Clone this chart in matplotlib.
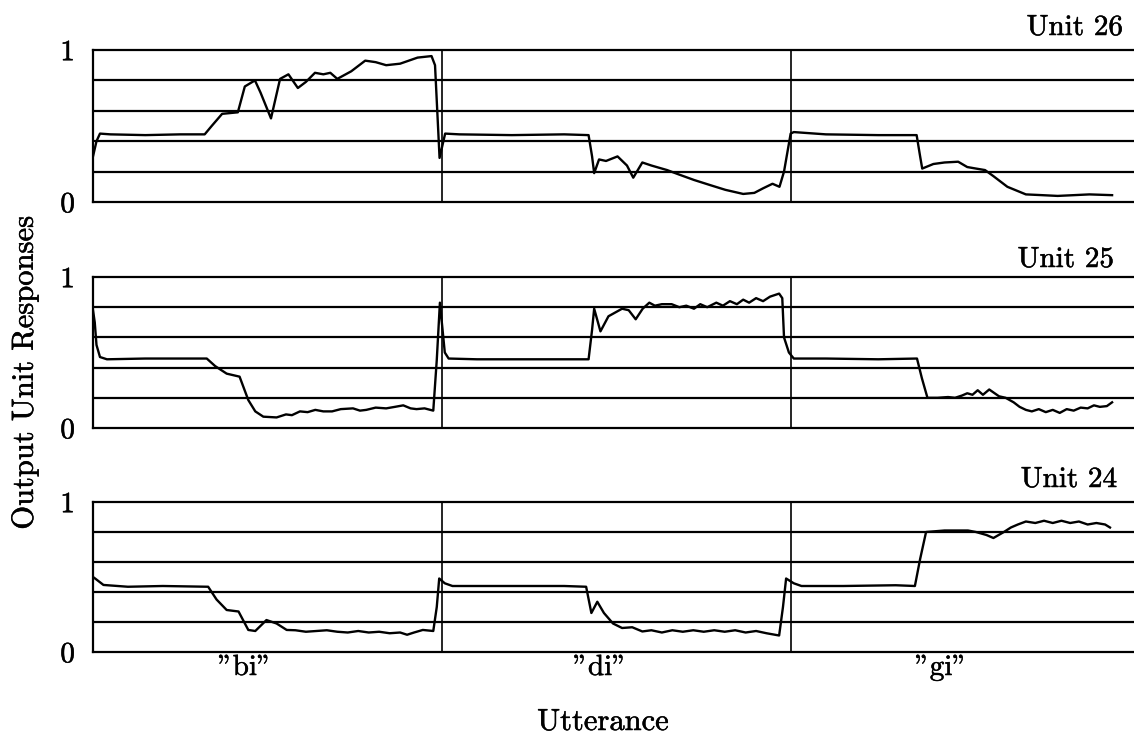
import matplotlib
matplotlib.use("Agg")
import matplotlib.pyplot as plt
import matplotlib.patheffects as pe
from matplotlib.transforms import blended_transform_factory

# frames within each utterance (0-100) and response of the output unit
utterances = ['"bi"', '"di"', '"gi"']
label_pos = [43.5, 45.3, 43.0]  # where the utterance name sits inside its block

u26_bi_t = [0, 1, 2, 5, 15, 25, 32, 34, 37, 41.5, 43.5, 46.4, 48, 51, 53.6, 56, 58.7, 61, 63.6,
            66, 68, 70, 74, 78, 81, 84, 88, 93, 97, 98, 99.3]
u26_bi_y = [0.30, 0.40, 0.45, 0.445, 0.44, 0.445, 0.445, 0.50, 0.58, 0.59, 0.76, 0.80, 0.72, 0.55,
            0.81, 0.84, 0.75, 0.79, 0.85, 0.84, 0.85, 0.81, 0.86, 0.93, 0.92, 0.90, 0.91, 0.95,
            0.96, 0.90, 0.29]
u26_di_t = [0.9, 5, 20, 35, 42, 43, 43.6, 45, 47, 50.3, 53, 54.8, 57.4, 60, 64.5, 68, 72.2, 77,
            81.2, 86.3, 89.5, 92, 94.7, 96.7, 98, 99.9]
u26_di_y = [0.45, 0.445, 0.44, 0.445, 0.44, 0.30, 0.19, 0.28, 0.27, 0.30, 0.24, 0.16, 0.26, 0.24,
            0.21, 0.18, 0.145, 0.11, 0.08, 0.053, 0.06, 0.09, 0.12, 0.10, 0.20, 0.45]
u26_gi_t = [0.8, 10, 25, 36, 37, 37.6, 40.8, 44, 47.9, 50.5, 53, 55.6, 58, 62, 67.3, 72, 76.4,
            81, 85.5, 92]
u26_gi_y = [0.46, 0.445, 0.44, 0.44, 0.30, 0.22, 0.25, 0.26, 0.265, 0.23, 0.22, 0.21, 0.17, 0.10,
            0.05, 0.045, 0.04, 0.045, 0.05, 0.045]

u25_bi_t = [0, 0.5, 1, 2, 4, 15, 25, 32.6, 35, 38.3, 42, 44.5, 46.5, 48.8, 52.6, 55.3, 57, 59.3,
            61.5, 63.7, 66, 68.5, 71, 74.5, 76.5, 78.3, 81, 84, 86.5, 88.9, 91, 92.7, 95, 97.5,
            98.5, 99.4]
u25_bi_y = [0.78, 0.70, 0.55, 0.47, 0.455, 0.46, 0.46, 0.46, 0.41, 0.36, 0.34, 0.185, 0.11, 0.075,
            0.07, 0.09, 0.085, 0.11, 0.105, 0.12, 0.11, 0.11, 0.125, 0.13, 0.115, 0.12, 0.135,
            0.13, 0.14, 0.15, 0.13, 0.125, 0.13, 0.115, 0.45, 0.83]
u25_di_t = [0.8, 1.9, 10, 25, 42, 43, 43.6, 45.4, 47.7, 51.6, 53.5, 55.5, 57.5, 59.4, 61, 63,
            65.8, 68, 70, 72.2, 74, 76, 78.6, 80.5, 82.5, 84.5, 86.3, 88, 90, 92, 94, 96.6, 97.5,
            98, 99.4]
u25_di_y = [0.50, 0.46, 0.455, 0.455, 0.455, 0.65, 0.79, 0.64, 0.74, 0.79, 0.78, 0.72, 0.79, 0.83,
            0.81, 0.82, 0.82, 0.80, 0.81, 0.79, 0.82, 0.80, 0.83, 0.81, 0.84, 0.82, 0.85, 0.83,
            0.86, 0.84, 0.87, 0.89, 0.86, 0.60, 0.50]
u25_gi_t = [0.8, 10, 25, 36.1, 37.5, 39.1, 42, 45, 47, 49, 50.5, 52, 53.5, 55, 56.8, 59.6, 61.5,
            63.8, 65.5, 67.3, 69, 71, 73, 75, 77, 79, 81, 83, 85, 86.8, 88.5, 90.5, 92]
u25_gi_y = [0.46, 0.46, 0.455, 0.46, 0.33, 0.20, 0.20, 0.205, 0.20, 0.215, 0.23, 0.22, 0.25, 0.22,
            0.255, 0.21, 0.20, 0.17, 0.14, 0.12, 0.11, 0.125, 0.105, 0.12, 0.10, 0.125, 0.115,
            0.135, 0.13, 0.15, 0.14, 0.145, 0.17]

u24_bi_t = [0, 0.6, 3, 10, 20, 33, 35.4, 38.3, 41.7, 44.5, 46.5, 49.7, 52.6, 55.5, 58, 61, 64,
            67, 70, 73, 76, 79, 82, 85, 88, 90, 92, 94.5, 97.5, 98.5, 99.2]
u24_bi_y = [0.50, 0.49, 0.447, 0.435, 0.44, 0.435, 0.35, 0.28, 0.27, 0.147, 0.14, 0.213, 0.19,
            0.147, 0.145, 0.135, 0.14, 0.145, 0.135, 0.13, 0.14, 0.13, 0.135, 0.125, 0.13, 0.115,
            0.13, 0.147, 0.14, 0.30, 0.49]
u24_di_t = [0.8, 3, 20, 35, 41.3, 42.8, 44.5, 46.4, 49, 51.6, 54.5, 57.4, 60, 63, 66, 69, 72, 75,
            78, 81, 84, 87, 90, 93, 96.6, 97.7, 98.6]
u24_di_y = [0.458, 0.44, 0.44, 0.44, 0.435, 0.26, 0.335, 0.26, 0.19, 0.16, 0.165, 0.137, 0.145,
            0.13, 0.145, 0.135, 0.145, 0.135, 0.145, 0.135, 0.145, 0.13, 0.14, 0.125, 0.11, 0.30,
            0.49]
u24_gi_t = [0.8, 3, 15, 30, 35.5, 37, 38.7, 44, 50.7, 53, 56, 58, 61, 63, 65, 67.3, 70, 72.5, 75,
            77.5, 80, 82.5, 85, 87.5, 90, 91.4]
u24_gi_y = [0.458, 0.44, 0.44, 0.445, 0.44, 0.62, 0.80, 0.81, 0.81, 0.80, 0.78, 0.76, 0.80, 0.83,
            0.85, 0.87, 0.86, 0.875, 0.86, 0.875, 0.86, 0.87, 0.85, 0.86, 0.85, 0.83]

units = [
    ("Unit 26", [(u26_bi_t, u26_bi_y), (u26_di_t, u26_di_y), (u26_gi_t, u26_gi_y)]),
    ("Unit 25", [(u25_bi_t, u25_bi_y), (u25_di_t, u25_di_y), (u25_gi_t, u25_gi_y)]),
    ("Unit 24", [(u24_bi_t, u24_bi_y), (u24_di_t, u24_di_y), (u24_gi_t, u24_gi_y)]),
]

plt.rcParams['font.family'] = ['cmr10', 'DejaVu Serif']
plt.rcParams['axes.formatter.use_mathtext'] = True

W, H = 1134, 734
fig = plt.figure(figsize=(W / 100, H / 100), dpi=100)

# a touch heavier text, like the scanned original
bold = [pe.withStroke(linewidth=0.35, foreground="black")]

# pixel boxes of the three panels (top, bottom)
panel_px = [(50, 202), (277, 428), (502, 652)]
label_px = [(1123, 35), (1114, 267), (1117, 487)]
left_px, right_px = 93, 1140
LW = 1.6

axes = []
for (name, curves), (top, bot), (lx, ly) in zip(units, panel_px, label_px):
    ax = fig.add_axes([left_px / W, 1 - bot / H, (right_px - left_px) / W, (bot - top) / H])
    axes.append(ax)
    ax.set_xlim(0, 300)
    ax.set_ylim(0, 1)
    for g in [0.2, 0.4, 0.6, 0.8]:
        ax.axhline(g, color="black", lw=LW)
    for d in [100, 200]:
        ax.axvline(d, color="black", lw=1.2)
    # one continuous trace across the three utterances
    xs, ys = [], []
    for k, (t, y) in enumerate(curves):
        xs += [v + 100 * k for v in t]
        ys += y
    ax.plot(xs, ys, color="black", lw=1.7, solid_joinstyle="round")
    for s in ["top", "bottom", "left"]:
        ax.spines[s].set_linewidth(LW)
    ax.spines["right"].set_visible(False)
    ax.set_xticks([])
    ax.set_yticks([0, 1])
    ax.set_yticklabels(["0", "1"], fontsize=21)
    for tl in ax.get_yticklabels():
        tl.set_path_effects(bold)
    ax.tick_params(axis="y", length=0, pad=13)
    fig.text(lx / W, 1 - ly / H, name, ha="right", va="baseline", fontsize=21,
             path_effects=bold)

trans = blended_transform_factory(axes[-1].transData, fig.transFigure)
for k, (u, p) in enumerate(zip(utterances, label_pos)):
    axes[-1].text(100 * k + p, 1 - 675 / H, u, transform=trans, ha="center",
                  va="baseline", fontsize=21, path_effects=bold)

fig.text(603 / W, 1 - 730 / H, "Utterance", ha="center", va="baseline", fontsize=22,
         path_effects=bold)
fig.text(25 / W, 1 - 373 / H, "Output Unit Responses", rotation=90, ha="center",
         va="center", fontsize=22, path_effects=bold)

fig.savefig("out.png", dpi=100)
